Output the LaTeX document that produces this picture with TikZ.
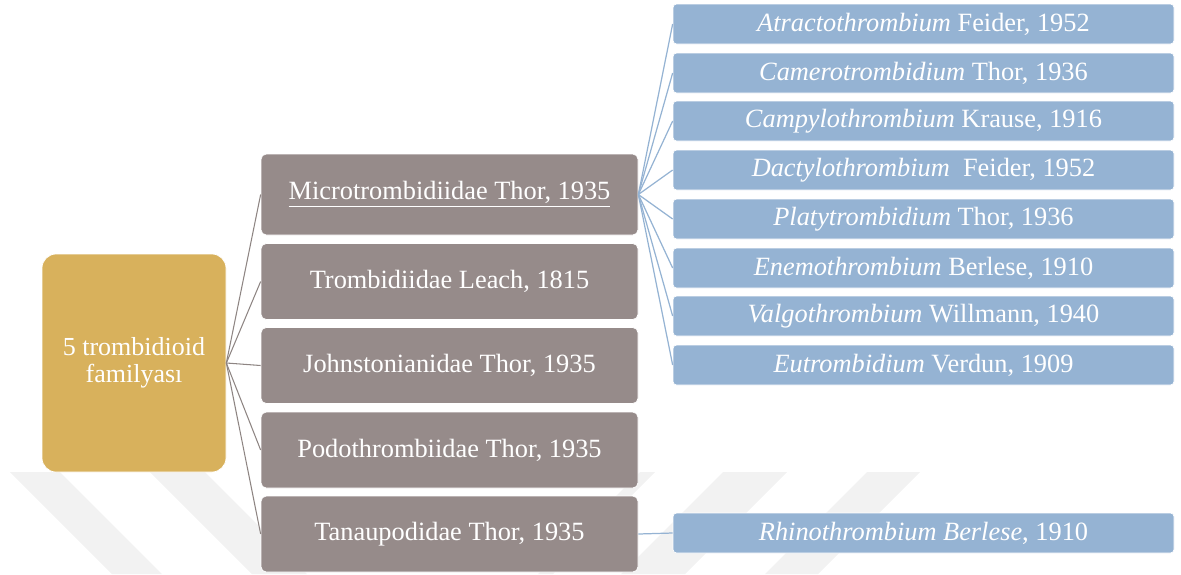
\documentclass[tikz,border=0pt]{standalone}
\usepackage{fontspec}
\setmainfont{Liberation Serif}
\usepackage{tikz}
\usetikzlibrary{positioning}
\definecolor{gold}{HTML}{D8B15C}
\definecolor{taupe}{HTML}{968B8A}
\definecolor{taupel}{HTML}{8E8583}
\definecolor{sky}{HTML}{95B3D3}
\definecolor{faint}{HTML}{F2F2F2}

\begin{document}
\begin{tikzpicture}[
      root/.style={fill=gold, draw=white, rounded corners=8pt, minimum width=3.68cm, minimum height=4.36cm, align=center, text=white, font=\fontsize{14.8}{15.5}\selectfont},
      fam/.style={fill=taupe, draw=white, rounded corners=3pt, minimum width=7.54cm, minimum height=1.52cm, text=white, font=\fontsize{15}{17}\selectfont},
      genus/.style={fill=sky, draw=white, rounded corners=2pt, minimum width=10.02cm, minimum height=0.8cm, text=white, font=\fontsize{15}{17}\selectfont},
      lk/.style={draw=taupel, line width=0.6pt},
      lb/.style={draw=sky, line width=0.7pt}]
    \useasboundingbox (0,0) rectangle (23.62,-11.48);
    % faint stripes behind the tree
    \fill[faint] (0.2,-9.44) -- (1.2,-9.44) -- (3.24,-11.48) -- (2.24,-11.48) -- cycle;
    \fill[faint] (3.0,-9.44) -- (4.1,-9.44) -- (6.14,-11.48) -- (5.04,-11.48) -- cycle;
    \fill[faint] (12.8,-9.44) -- (13.1,-9.44) -- (11.06,-11.48) -- (10.76,-11.48) -- cycle;
    \fill[faint] (14.46,-9.44) -- (15.74,-9.44) -- (13.7,-11.48) -- (12.42,-11.48) -- cycle;
    \fill[faint] (17.34,-9.44) -- (18.4,-9.44) -- (16.36,-11.48) -- (15.3,-11.48) -- cycle;

    \node[root] (top) at (2.68,-7.26) {5 trombidioid\\familyası};

    \node[fam, minimum height=1.62cm] (micro) at (8.99,-3.89) {\underline{Microtrombidiidae Thor, 1935}};
    \node[fam] (tromb) at (8.99,-5.63) {Trombidiidae Leach, 1815};
    \node[fam] (johns) at (8.99,-7.31) {Johnstonianidae Thor, 1935};
    \node[fam] (podo) at (8.99,-9.0) {Podothrombiidae Thor, 1935};
    \node[fam] (tanau) at (8.99,-10.68) {Tanaupodidae Thor, 1935};

    \node[genus] (atrac) at (18.47,-0.48) {\textit{Atractothrombium} Feider, 1952};
    \node[genus] (camer) at (18.47,-1.46) {\textit{Camerotrombidium} Thor, 1936};
    \node[genus] (campy) at (18.47,-2.42) {\textit{Campylothrombium} Krause, 1916};
    \node[genus] (dacty) at (18.47,-3.40) {\textit{Dactylothrombium} \ Feider, 1952};
    \node[genus] (platy) at (18.47,-4.38) {\textit{Platytrombidium} Thor, 1936};
    \node[genus] (enemo) at (18.47,-5.36) {\textit{Enemothrombium} Berlese, 1910};
    \node[genus] (valgo) at (18.47,-6.32) {\textit{Valgothrombium} Willmann, 1940};
    \node[genus] (eutro) at (18.47,-7.30) {\textit{Eutrombidium} Verdun, 1909};
    \node[genus] (rhino) at (18.47,-10.66) {\textit{Rhinothrombium Berlese}, 1910};

    \draw[lk] (top.east) -- (micro.west);
    \draw[lk] (top.east) -- (tromb.west);
    \draw[lk] (top.east) -- (johns.west);
    \draw[lk] (top.east) -- (podo.west);
    \draw[lk] (top.east) -- (tanau.west);

    \draw[lb] (micro.east) -- (atrac.west);
    \draw[lb] (micro.east) -- (camer.west);
    \draw[lb] (micro.east) -- (campy.west);
    \draw[lb] (micro.east) -- (dacty.west);
    \draw[lb] (micro.east) -- (platy.west);
    \draw[lb] (micro.east) -- (enemo.west);
    \draw[lb] (micro.east) -- (valgo.west);
    \draw[lb] (micro.east) -- (eutro.west);
    \draw[lb] (tanau.east) -- (rhino.west);
  \end{tikzpicture}
\end{document}
